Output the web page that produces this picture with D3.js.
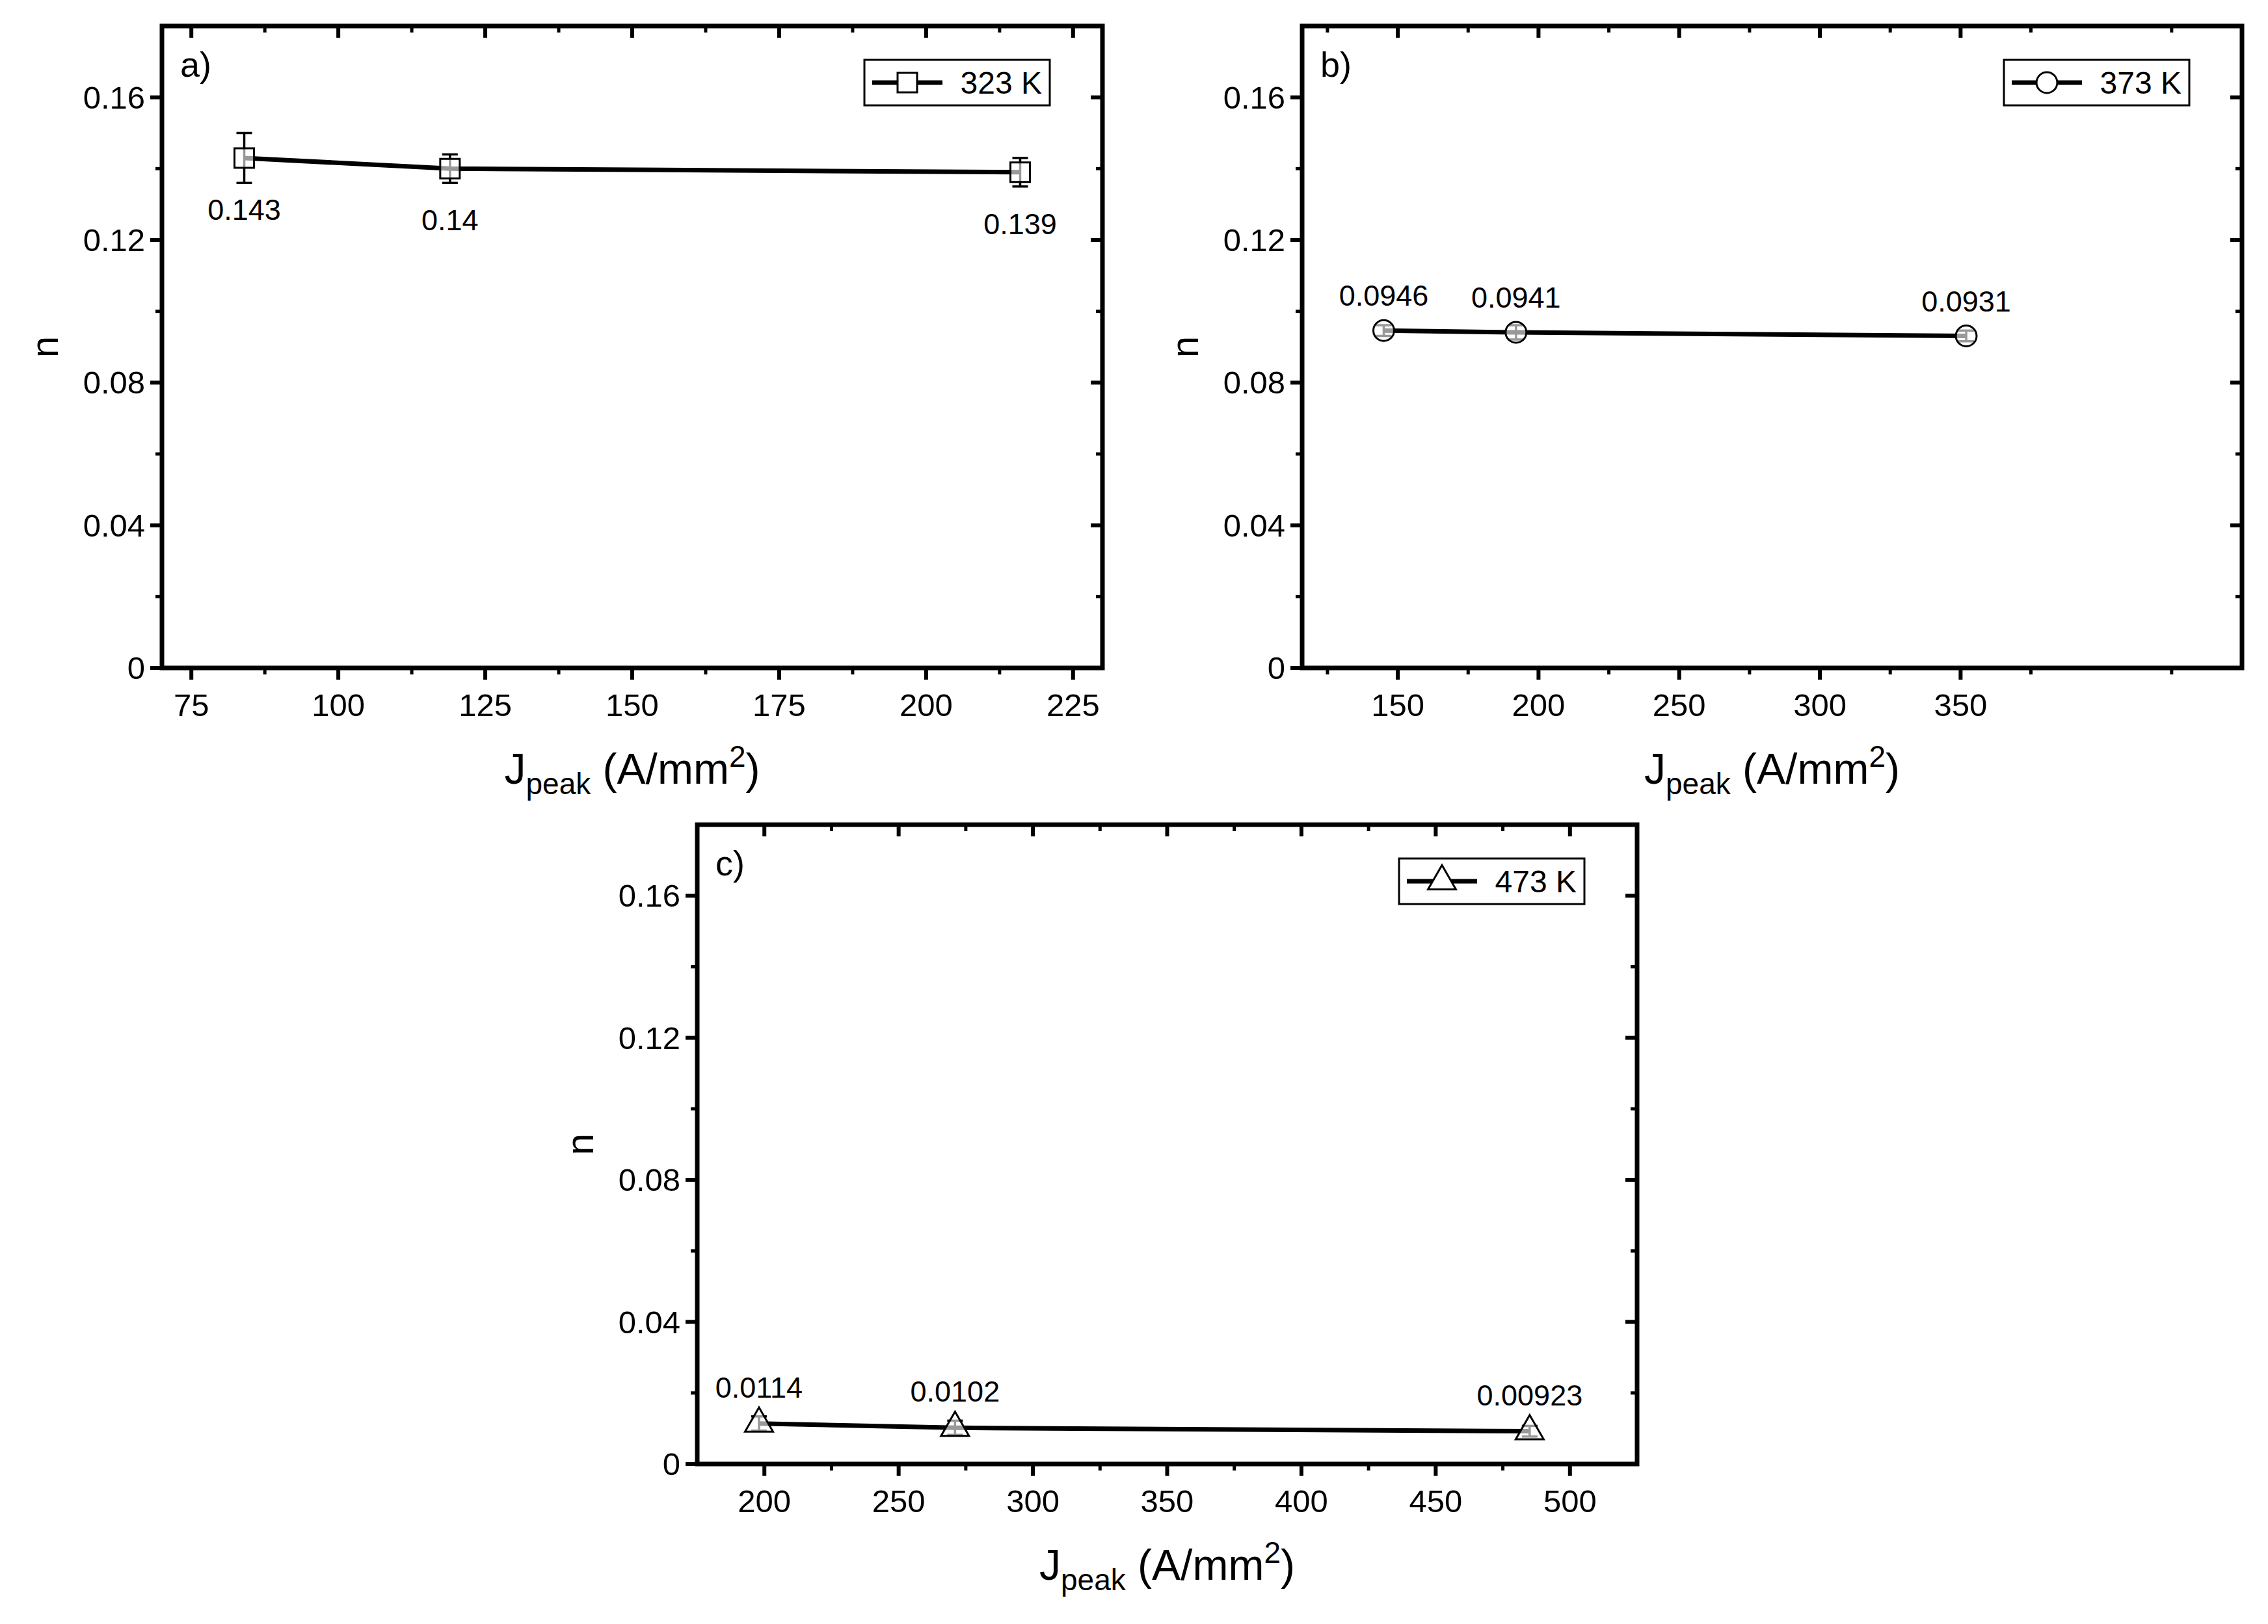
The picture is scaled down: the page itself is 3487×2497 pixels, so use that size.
<!DOCTYPE html>
<html><head><meta charset="utf-8">
<script src="https://cdn.jsdelivr.net/npm/d3@7"></script>
<style>body{margin:0;background:#fff}text{font-family:"Liberation Sans",Arial,sans-serif}</style>
</head><body><svg id="c" width="3487" height="2497"></svg>
<script>
var svg = d3.select("#c");

// data
var xA = [84, 119, 216], yA = [0.143, 0.14, 0.139], eA = [0.007, 0.004, 0.004];
var xB = [145, 192, 352], yB = [0.0946, 0.0941, 0.0931], eB = [0.0015, 0.002, 0.0015];
var xC = [198, 271, 485], yC = [0.0114, 0.0102, 0.00923], eC = [0.002, 0.002, 0.0015];
var labA = ["0.143", "0.14", "0.139"], labB = ["0.0946", "0.0941", "0.0931"], labC = ["0.0114", "0.0102", "0.00923"];
var yTicks = [0, 0.04, 0.08, 0.12, 0.16];
var xTicksA = [75, 100, 125, 150, 175, 200, 225];
var xTicksB = [150, 200, 250, 300, 350];
var xTicksC = [200, 250, 300, 350, 400, 450, 500];

function panel(o) {
  var g = svg.append("g");
  var x = d3.scaleLinear().domain(o.xd).range([o.l, o.r]);
  var y = d3.scaleLinear().domain([0, 0.18]).range([o.b, o.t]);
  var fmtY = function(d) { return d === 0 ? "0" : d3.format(".2f")(d); };

  // minor + major ticks, outward left/bottom, inward top/right
  var yMinor = d3.range(0.02, 0.18, 0.04);
  var xMinor = o.xMinor;
  function tk(x1, y1, x2, y2, w) {
    g.append("line").attr("x1", x1).attr("y1", y1).attr("x2", x2).attr("y2", y2)
      .attr("stroke", "#000").attr("stroke-width", w);
  }
  yTicks.forEach(function(d) {
    tk(o.l, y(d), o.l - 18, y(d), 6); tk(o.r, y(d), o.r - 18, y(d), 6);
    g.append("text").attr("x", o.l - 26).attr("y", y(d) + 17).attr("text-anchor", "end")
      .attr("font-size", 49).text(fmtY(d));
  });
  yMinor.forEach(function(d) { tk(o.l, y(d), o.l - 10, y(d), 5); tk(o.r, y(d), o.r - 10, y(d), 5); });
  o.xTicks.forEach(function(d) {
    tk(x(d), o.b, x(d), o.b + 18, 6); tk(x(d), o.t, x(d), o.t + 18, 6);
    g.append("text").attr("x", x(d)).attr("y", o.b + 74).attr("text-anchor", "middle")
      .attr("font-size", 49).text(d);
  });
  xMinor.forEach(function(d) { tk(x(d), o.b, x(d), o.b + 10, 5); tk(x(d), o.t, x(d), o.t + 10, 5); });

  g.append("rect").attr("x", o.l).attr("y", o.t).attr("width", o.r - o.l).attr("height", o.b - o.t)
    .attr("fill", "none").attr("stroke", "#000").attr("stroke-width", 7);

  // titles
  var xt = g.append("text").attr("x", (o.l + o.r) / 2).attr("y", o.b + 178)
    .attr("text-anchor", "middle").attr("font-size", 66);
  xt.append("tspan").text("J");
  xt.append("tspan").attr("font-size", 46).attr("dy", 16).text("peak");
  xt.append("tspan").attr("dy", -16).text(" (A/mm");
  xt.append("tspan").attr("font-size", 46).attr("dy", -26).text("2");
  xt.append("tspan").attr("dy", 26).text(")");
  g.append("text").attr("transform", "translate(" + (o.l - 160) + "," + ((o.t + o.b) / 2) + ") rotate(-90)")
    .attr("text-anchor", "middle").attr("font-size", 60).text("n");
  g.append("text").attr("x", o.l + 28).attr("y", o.t + 78).attr("font-size", 54).text(o.tag);

  // line
  var pts = o.xs.map(function(d, i) { return [d, o.ys[i]]; });
  g.append("path").attr("d", d3.line().x(function(d) { return x(d[0]); }).y(function(d) { return y(d[1]); })(pts))
    .attr("fill", "none").attr("stroke", "#000").attr("stroke-width", 7);

  // error bars
  pts.forEach(function(p, i) {
    var cx = x(p[0]), hi = y(p[1] + o.es[i]), lo = y(p[1] - o.es[i]);
    tk(cx, hi, cx, lo, 3.5); tk(cx - 12, hi, cx + 12, hi, 3.5); tk(cx - 12, lo, cx + 12, lo, 3.5);
  });

  var sym = d3.symbol().type(o.sym).size(o.symSize);
  pts.forEach(function(p) {
    g.append("path").attr("d", sym()).attr("transform", "translate(" + x(p[0]) + "," + y(p[1]) + ")")
      .attr("fill", "#fff").attr("fill-opacity", 0.6).attr("stroke", "#000").attr("stroke-width", 3);
  });

  pts.forEach(function(p, i) {
    g.append("text").attr("x", x(p[0]) + (o.labDx ? o.labDx[i] : 0)).attr("y", y(p[1]) + o.labDy)
      .attr("text-anchor", "middle").attr("font-size", 45).text(o.labels[i]);
  });

  // legend
  var lw = 285, lh = 70, lx = o.r - 81 - lw, ly = o.t + 52;
  g.append("rect").attr("x", lx).attr("y", ly).attr("width", lw).attr("height", lh)
    .attr("fill", "#fff").attr("stroke", "#000").attr("stroke-width", 3);
  tk(lx + 12, ly + lh / 2, lx + 120, ly + lh / 2, 7);
  g.append("path").attr("d", sym()).attr("transform", "translate(" + (lx + 66) + "," + (ly + lh / 2) + ")")
    .attr("fill", "#fff").attr("stroke", "#000").attr("stroke-width", 3);
  g.append("text").attr("x", lx + lw - 12).attr("y", ly + lh / 2 + 17).attr("text-anchor", "end")
    .attr("font-size", 48).text(o.legend);
}

panel({l: 249, r: 1695, t: 40, b: 1027, xd: [70, 230], xTicks: xTicksA, xMinor: d3.range(87.5, 230, 25),
  xs: xA, ys: yA, es: eA, labels: labA, labDy: 95, sym: d3.symbolSquare, symSize: 900, tag: "a)", legend: "323 K"});
panel({l: 2002, r: 3447, t: 40, b: 1027, xd: [116, 450], xTicks: xTicksB, xMinor: d3.range(125, 450, 50),
  xs: xB, ys: yB, es: eB, labels: labB, labDy: -38, sym: d3.symbolCircle, symSize: 800, tag: "b)", legend: "373 K"});
panel({l: 1072, r: 2517, t: 1268, b: 2251, xd: [175, 525], xTicks: xTicksC, xMinor: d3.range(225, 525, 50),
  xs: xC, ys: yC, es: eC, labels: labC, labDy: -40, sym: d3.symbolTriangle, symSize: 800, tag: "c)", legend: "473 K"});
</script></body></html>
